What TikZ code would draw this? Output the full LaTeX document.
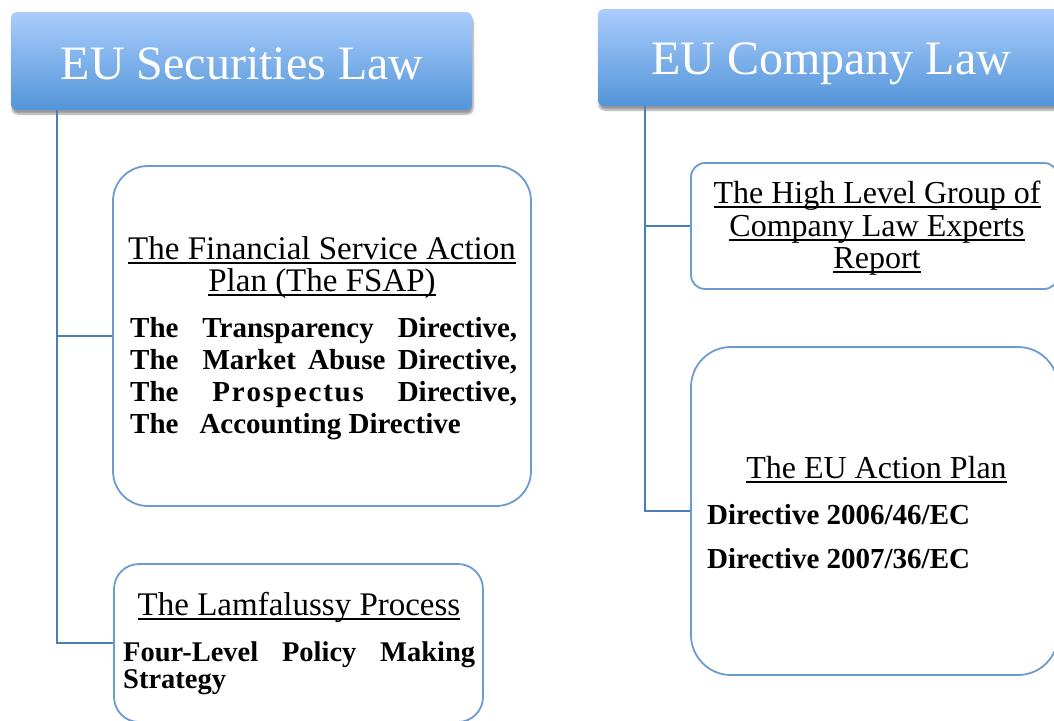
\documentclass[tikz,border=0pt]{standalone}
\usepackage{fontspec}
\setmainfont{Liberation Serif}
\usetikzlibrary{shadows.blur}
\definecolor{hdtop}{RGB}{170,205,253}
\definecolor{hdbot}{RGB}{83,149,216}
\definecolor{conn}{RGB}{74,126,187}
\definecolor{bord}{RGB}{108,155,210}
\newcommand\ulin[1]{\setbox0\hbox{#1}\rlap{\rule[-5pt]{\wd0}{1.7pt}}\box0}
\newcommand\spc{\kern1.8pt}
\begin{document}
\begin{tikzpicture}[x=1pt,y=-1pt,
 header/.style={rectangle, rounded corners=6pt, top color=hdtop, bottom color=hdbot, draw=none,
   blur shadow={shadow xshift=1pt, shadow yshift=-4pt, shadow blur steps=8, shadow opacity=40}, inner sep=0pt},
 hdtext/.style={text=white, font=\fontsize{48}{48}\selectfont, anchor=base, inner sep=0pt},
 box/.style={rectangle, draw=bord, line width=1.8pt, fill=white, inner sep=0pt},
 link/.style={draw=conn, line width=1.8pt},
 title/.style={anchor=base, inner sep=0pt, font=\fontsize{33}{33}\selectfont},
 body/.style={anchor=base west, inner sep=0pt, font=\bfseries\fontsize{29}{29}\selectfont},
]
\useasboundingbox (0,0) rectangle (1054,720);
\clip (0,0) rectangle (1054,720);

% headers
\node[header, minimum width=461pt, minimum height=98pt] (sec) at (241.5,61) {};
\node[header, minimum width=466pt, minimum height=97pt] (com) at (831,57.5) {};

% boxes
\node[box, rounded corners=35pt, minimum width=418pt, minimum height=340pt] (fsap) at (322,336) {};
\node[box, rounded corners=25pt, minimum width=369pt, minimum height=158pt] (lamf) at (298.5,643) {};
\node[box, rounded corners=14pt, minimum width=367pt, minimum height=126pt] (hlg) at (874.5,226) {};
\node[box, rounded corners=40pt, minimum width=367pt, minimum height=328pt] (euap) at (874.5,511) {};

% connectors
\draw[link] (sec.south west) ++(46,0) |- (fsap.west);
\draw[link] (sec.south west) ++(46,0) |- (lamf.west);
\draw[link] (com.south west) ++(47,0) |- (hlg.west);
\draw[link] (com.south west) ++(47,0) |- (euap.west);

% header texts
\node[hdtext] (secT) at (242,79) {EU Securities Law};
\node[hdtext] (comT) at (831,74) {EU Company Law};

% FSAP
\node[title] (f1) at (322,259) {\ulin{The Financial Service Action}};
\node[title] (f2) at (322,291) {\ulin{Plan (The FSAP)}};
\node[body] (f3) at (130,337) {\hbox to 387pt{The\hfill Transparency\hfill Directive,}};
\node[body] (f4) at (130,369) {\hbox to 387pt{The\hspace{24pt}Market\hfill Abuse\hfill Directive,}};
\node[body] (f5) at (130,401) {\hbox to 387pt{The\hfill P\spc r\spc o\spc s\spc p\spc e\spc c\spc t\spc u\spc s\hfill Directive,}};
\node[body] (f6) at (130,433) {The\hspace{21pt}Accounting Directive};

% Lamfalussy
\node[title] (l1) at (299,615) {\ulin{The Lamfalussy Process}};
\node[body, font=\bfseries\fontsize{28.5}{28.5}\selectfont] (l2) at (123,661) {\hbox to 352pt{Four-Level\hfill Policy\hfill Making}};
\node[body, font=\bfseries\fontsize{28.5}{28.5}\selectfont] (l3) at (123,688) {Strategy};

% HLG
\node[title, font=\fontsize{32}{32}\selectfont] (h1) at (877,203) {\ulin{The High Level Group of}};
\node[title, font=\fontsize{32}{32}\selectfont] (h2) at (877,236) {\ulin{Company Law Experts}};
\node[title, font=\fontsize{32}{32}\selectfont] (h3) at (877,268) {\ulin{Report}};

% EU Action Plan
\node[title, font=\fontsize{32}{32}\selectfont] (e1) at (876.5,478) {\ulin{The EU Action Plan}};
\node[body] (e2) at (707,524) {Directive 2006/46/EC};
\node[body] (e3) at (707,568) {Directive 2007/36/EC};
\end{tikzpicture}
\end{document}
